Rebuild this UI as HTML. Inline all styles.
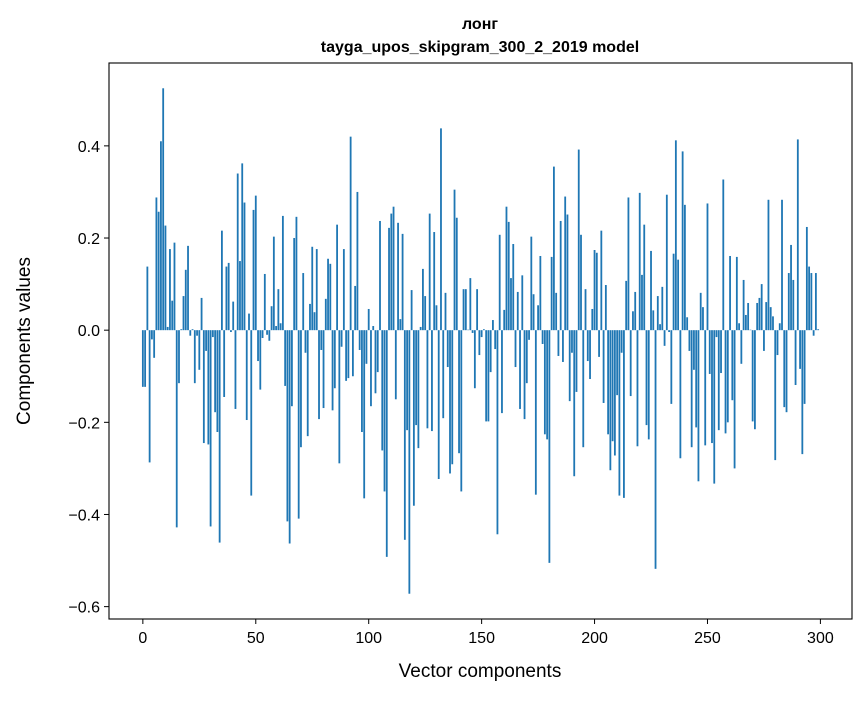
<!DOCTYPE html>
<html><head><meta charset="utf-8"><style>
body{margin:0;background:#fff;}
svg text{font-family:"Liberation Sans","DejaVu Sans",sans-serif;fill:#000;}
</style></head><body>
<svg id="chart" width="867" height="696" xmlns="http://www.w3.org/2000/svg">
<rect width="867" height="696" fill="#fff"/>
<text x="480" y="29" text-anchor="middle" font-size="16" font-weight="bold">лонг</text>
<text x="480" y="52" text-anchor="middle" font-size="16" font-weight="bold">tayga_upos_skipgram_300_2_2019 model</text>
<g id="bars"></g>
<g id="axes"></g>
<text x="480" y="677" text-anchor="middle" font-size="19">Vector components</text>
<text transform="translate(30,341) rotate(-90)" text-anchor="middle" font-size="19">Components values</text>
</svg>
<script>
const values = [-0.123,-0.123,0.138,-0.287,-0.02,-0.06,0.288,0.257,0.41,0.525,
0.227,0.007,0.176,0.064,0.19,-0.428,-0.115,0.002,0.074,0.131,
0.183,-0.012,0.002,-0.115,-0.012,-0.086,0.07,-0.245,-0.045,-0.248,
-0.426,-0.015,-0.178,-0.221,-0.461,0.216,-0.145,0.138,0.146,-0.004,
0.062,-0.171,0.34,0.15,0.362,0.277,-0.195,0.036,-0.359,0.261,
0.292,-0.067,-0.129,-0.017,0.122,-0.01,-0.023,0.052,0.203,0.009,
0.089,0.015,0.248,-0.121,-0.415,-0.463,-0.165,0.2,0.246,-0.409,
-0.254,0.124,-0.049,-0.23,0.057,0.181,0.039,0.176,-0.193,-0.043,
-0.169,0.068,0.155,0.144,-0.174,-0.126,0.229,-0.289,-0.036,0.176,
-0.11,-0.104,0.42,-0.1,0.096,0.3,-0.043,-0.221,-0.365,-0.073,
0.046,-0.165,0.009,-0.137,-0.091,0.237,-0.261,-0.35,-0.492,0.222,
0.253,0.268,-0.15,0.233,0.024,0.209,-0.455,-0.217,-0.572,0.087,
-0.381,-0.206,-0.256,0.007,0.133,0.074,-0.213,0.253,-0.219,0.213,
0.054,-0.323,0.438,-0.191,0.081,-0.08,-0.311,-0.291,0.305,0.244,
-0.267,-0.35,0.089,0.089,0.001,0.113,-0.006,-0.126,0.089,-0.054,
-0.015,0.002,-0.198,-0.198,-0.091,0.022,-0.041,-0.443,0.207,-0.18,
0.044,0.268,0.235,0.113,0.187,-0.08,0.083,-0.171,0.119,-0.193,
-0.115,-0.021,0.203,0.078,-0.357,0.054,0.161,-0.03,-0.226,-0.237,
-0.505,0.159,0.355,0.081,-0.056,0.237,-0.069,0.29,0.251,-0.154,
-0.049,-0.317,-0.134,0.392,0.207,-0.254,0.089,-0.067,-0.106,0.046,
0.174,0.168,-0.058,0.216,-0.158,0.098,-0.226,-0.304,-0.241,-0.272,
-0.141,-0.359,-0.049,-0.364,0.107,0.288,-0.143,0.041,0.083,-0.252,
0.298,0.12,0.229,-0.206,-0.237,0.172,0.043,-0.518,0.074,0.013,
0.094,-0.034,0.294,-0.004,-0.16,0.166,0.412,0.153,-0.278,0.388,
0.272,0.028,-0.045,-0.254,-0.086,-0.211,-0.328,0.081,0.05,-0.25,
0.275,-0.095,-0.245,-0.333,-0.015,-0.217,-0.093,0.327,-0.224,-0.2,
0.161,-0.152,-0.3,0.159,0.015,-0.073,0.109,0.033,0.059,0.001,
-0.198,-0.215,0.059,0.07,0.1,-0.045,0.061,0.283,0.05,0.03,
-0.282,-0.054,0.015,0.283,-0.167,-0.178,0.124,0.185,0.109,-0.119,
0.414,-0.084,-0.269,-0.16,0.224,0.138,0.124,-0.012,0.124,0.002];
const xTicks = [0,50,100,150,200,250,300];
const yTicks = [-0.6,-0.4,-0.2,0.0,0.2,0.4];
const yTickLabels = ["\u22120.6","\u22120.4","\u22120.2","0.0","0.2","0.4"];

const NS="http://www.w3.org/2000/svg";
const L=109,R=852,T=63,B=619;
const xMin=-14.99,xMax=313.99;
const vmin=Math.min(...values),vmax=Math.max(...values),pad=(vmax-vmin)*0.05;
const yMin=vmin-pad,yMax=vmax+pad;
const xs=v=>L+(v-xMin)/(xMax-xMin)*(R-L);
const ys=v=>B-(v-yMin)/(yMax-yMin)*(B-T);
const bars=document.getElementById('bars');
values.forEach((v,i)=>{
  const r=document.createElementNS(NS,'rect');
  const x0=xs(i-0.4),x1=xs(i+0.4);
  const y0=ys(Math.max(v,0)),y1=ys(Math.min(v,0));
  r.setAttribute('x',x0);r.setAttribute('width',Math.max(x1-x0,0.5));
  r.setAttribute('y',y0);r.setAttribute('height',Math.max(y1-y0,0.3));
  r.setAttribute('fill','#1f77b4');
  
  
  bars.appendChild(r);
});
const ax=document.getElementById('axes');
const frame=document.createElementNS(NS,'rect');
frame.setAttribute('x',L);frame.setAttribute('y',T);frame.setAttribute('width',R-L);frame.setAttribute('height',B-T);
frame.setAttribute('fill','none');frame.setAttribute('stroke','#000');frame.setAttribute('stroke-width','1.1');


ax.appendChild(frame);
xTicks.forEach(t=>{
  const x=xs(t);
  const l=document.createElementNS(NS,'line');
  l.setAttribute('x1',x);l.setAttribute('x2',x);l.setAttribute('y1',B);l.setAttribute('y2',B+5);l.setAttribute('stroke','#000');
  
  
  ax.appendChild(l);
  const tx=document.createElementNS(NS,'text');
  tx.setAttribute('x',x);tx.setAttribute('y',B+24);tx.setAttribute('text-anchor','middle');tx.setAttribute('font-size','16');
  tx.textContent=t;
  
  
  ax.appendChild(tx);
});
yTicks.forEach((t,i)=>{
  const y=ys(t);
  const l=document.createElementNS(NS,'line');
  l.setAttribute('x1',L-5);l.setAttribute('x2',L);l.setAttribute('y1',y);l.setAttribute('y2',y);l.setAttribute('stroke','#000');
  
  
  ax.appendChild(l);
  const tx=document.createElementNS(NS,'text');
  tx.setAttribute('x',L-9);tx.setAttribute('y',y+6);tx.setAttribute('text-anchor','end');tx.setAttribute('font-size','16');
  tx.textContent=yTickLabels[i];
  
  
  ax.appendChild(tx);
});
</script>
</body></html>
